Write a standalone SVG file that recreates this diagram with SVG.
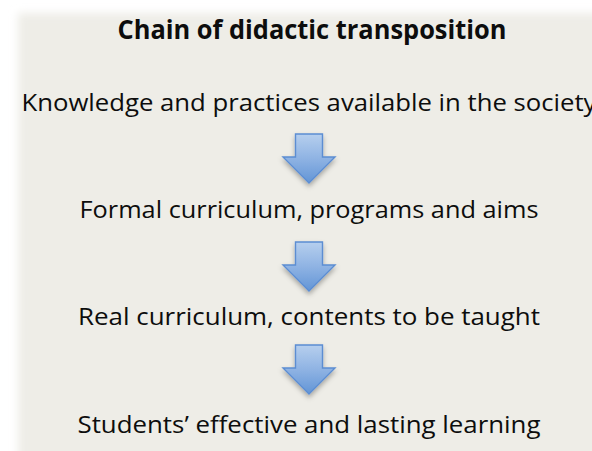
<svg xmlns="http://www.w3.org/2000/svg" width="592" height="451" viewBox="0 0 592 451">
  <style>
    .t { font-family: "Open Sans", "Noto Sans", "DejaVu Sans", sans-serif; font-size: 24.5px; fill: #0d0d0d; text-anchor: middle; }
    .title { font-weight: bold; font-size: 27.5px; }
    .arrow { fill: url(#arrowGrad); stroke: #5b8dd2; stroke-width: 1.4; stroke-linejoin: miter; filter: url(#arrowShadow); }
  </style>
  <defs>
    <linearGradient id="arrowGrad" x1="0" y1="0" x2="0" y2="1">
      <stop offset="0" stop-color="#b6cfee"/>
      <stop offset="0.5" stop-color="#8fb3e3"/>
      <stop offset="1" stop-color="#6295d6"/>
    </linearGradient>
    <filter id="arrowShadow" x="-40%" y="-30%" width="180%" height="170%">
      <feDropShadow dx="0" dy="3" stdDeviation="2.5" flood-color="#000" flood-opacity="0.3"/>
    </filter>
    <filter id="panelBlur" x="-10%" y="-10%" width="120%" height="120%">
      <feGaussianBlur stdDeviation="4"/>
    </filter>
    <path id="downArrow" d="M-13.5,0 H13.5 V23 H26 L0,49 L-26,23 H-13.5 Z"/>
  </defs>

  <rect width="592" height="451" fill="#ffffff"/>
  <rect x="18" y="13" width="640" height="500" fill="#eeede7" filter="url(#panelBlur)"/>

  <g id="title">
    <text class="t title" x="312" y="39" textLength="389" lengthAdjust="spacingAndGlyphs">Chain of didactic transposition</text>
  </g>

  <g id="node-knowledge">
    <text class="t" x="309" y="111" textLength="575" lengthAdjust="spacingAndGlyphs">Knowledge and practices available in the society</text>
  </g>

  <g id="node-formal">
    <text class="t" x="309" y="218" textLength="459" lengthAdjust="spacingAndGlyphs">Formal curriculum, programs and aims</text>
  </g>

  <g id="node-real">
    <text class="t" x="309" y="325" textLength="462" lengthAdjust="spacingAndGlyphs">Real curriculum, contents to be taught</text>
  </g>

  <g id="node-students">
    <text class="t" x="309" y="433" textLength="463" lengthAdjust="spacingAndGlyphs">Students’ effective and lasting learning</text>
  </g>

  <g id="connectors">
    <use href="#downArrow" class="arrow" transform="translate(309,134)"/>
    <use href="#downArrow" class="arrow" transform="translate(309,242)"/>
    <use href="#downArrow" class="arrow" transform="translate(309,345)"/>
  </g>
</svg>
